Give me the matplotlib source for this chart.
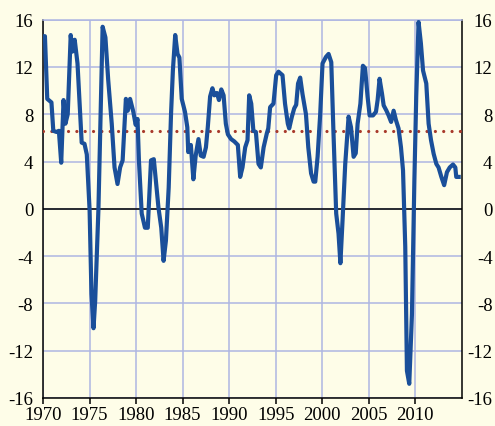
import matplotlib
matplotlib.use('Agg')
import matplotlib.pyplot as plt

# traced points of the series (year, percent)
years = [1970.0, 1970.2, 1970.45, 1970.9, 1971.1, 1971.45, 1971.7, 1971.95, 1972.2, 1972.4,
         1972.65, 1972.97, 1973.15, 1973.4, 1973.7, 1974.15, 1974.45, 1974.7, 1975.0, 1975.2,
         1975.42, 1975.6, 1975.95, 1976.4, 1976.7, 1977.0, 1977.38, 1977.68, 1978.0, 1978.28,
         1978.55, 1978.9, 1979.1, 1979.35, 1979.7, 1979.95, 1980.15, 1980.3, 1980.6, 1980.95,
         1981.25, 1981.6, 1981.9, 1982.4, 1982.7, 1982.95, 1983.2, 1983.5, 1983.75, 1983.95,
         1984.2, 1984.45, 1984.65, 1984.9, 1985.25, 1985.5, 1985.6, 1985.88, 1986.15, 1986.4,
         1986.7, 1986.95, 1987.25, 1987.5, 1987.7, 1987.95, 1988.2, 1988.4, 1988.68, 1988.9,
         1989.15, 1989.4, 1989.64, 1989.86, 1990.2, 1990.55, 1990.93, 1991.18, 1991.43, 1991.72,
         1991.97, 1992.15, 1992.37, 1992.6, 1992.87, 1993.15, 1993.4, 1993.7, 1994.05, 1994.2,
         1994.4, 1994.76, 1995.05, 1995.3, 1995.73, 1996.0, 1996.3, 1996.45, 1996.74, 1996.99,
         1997.2, 1997.4, 1997.63, 1997.88, 1998.25, 1998.5, 1998.8, 1999.07, 1999.25, 1999.5,
         1999.78, 2000.03, 2000.4, 2000.68, 2000.97, 2001.2, 2001.5, 2001.75, 2001.95, 2002.18,
         2002.47, 2002.83, 2003.09, 2003.37, 2003.6, 2003.8, 2004.1, 2004.37, 2004.6, 2004.87,
         2005.09, 2005.45, 2005.77, 2005.95, 2006.16, 2006.42, 2006.6, 2006.9, 2007.13, 2007.4,
         2007.67, 2007.92, 2008.2, 2008.46, 2008.68, 2008.92, 2009.1, 2009.35, 2009.64, 2009.9,
         2010.1, 2010.35, 2010.6, 2010.83, 2011.18, 2011.43, 2011.69, 2011.97, 2012.26, 2012.5,
         2012.8, 2013.1, 2013.4, 2013.7, 2014.05, 2014.3, 2014.4, 2014.66]
values = [14.6, 14.6, 9.3, 9.0, 6.6, 6.5, 6.6, 3.9, 9.2, 7.2,
          8.0, 14.7, 13.3, 14.3, 12.3, 5.6, 5.5, 4.6, -0.1, -7.2,
          -10.1, -7.8, 0.0, 15.4, 14.5, 10.9, 7.2, 3.5, 2.1, 3.5,
          4.1, 9.3, 8.3, 9.3, 8.2, 7.1, 7.6, 4.1, -0.4, -1.6,
          -1.6, 4.1, 4.2, 0.1, -1.6, -4.4, -2.7, 1.8, 8.0, 11.7,
          14.7, 13.1, 12.8, 9.3, 8.2, 6.9, 4.8, 5.4, 2.5, 4.5,
          5.9, 4.5, 4.4, 5.2, 6.9, 9.5, 10.2, 9.6, 9.8, 9.2,
          10.1, 9.6, 7.2, 6.3, 5.9, 5.7, 5.4, 2.7, 3.5, 5.2,
          5.8, 9.6, 8.9, 6.6, 6.5, 3.8, 3.5, 5.2, 6.4, 6.8,
          8.6, 8.9, 11.3, 11.6, 11.3, 8.9, 7.2, 6.8, 7.8, 8.5,
          8.8, 10.6, 11.1, 9.7, 8.0, 5.2, 3.0, 2.3, 2.3, 4.4,
          8.0, 12.3, 12.85, 13.1, 12.4, 6.6, -0.4, -2.1, -4.6, -1.0,
          3.8, 7.8, 6.9, 4.4, 4.7, 7.2, 8.9, 12.1, 11.9, 9.5,
          7.9, 7.9, 8.2, 9.2, 11.0, 9.75, 8.75, 8.3, 7.9, 7.35,
          8.3, 7.5, 6.8, 5.2, 3.25, -3.2, -13.7, -14.8, -8.9, 2.4,
          9.5, 15.8, 14.0, 11.7, 10.6, 7.2, 5.8, 4.66, 3.8, 3.5,
          2.7, 2.0, 3.1, 3.5, 3.75, 3.5, 2.7, 2.7]

avg_value = 6.6
xticks = [1970, 1975, 1980, 1985, 1990, 1995, 2000, 2005, 2010]
yticks = [-16, -12, -8, -4, 0, 4, 8, 12, 16]

bg = '#FEFDE8'
grid_col = '#AEB6E2'

plt.rcParams['font.family'] = ['Liberation Serif', 'DejaVu Serif']

fig = plt.figure(figsize=(4.95, 4.27), dpi=100, facecolor=bg)
ax = fig.add_axes([0.087, 0.0656, 0.846, 0.886], facecolor=bg)

ax.set_xlim(1970, 2015)
ax.set_ylim(-16, 16)
ax.set_xticks(xticks)
ax.set_yticks(yticks)
ax.set_yticklabels([str(t) for t in yticks])
ax.grid(True, color=grid_col, linewidth=1.1, zorder=0)
ax.set_axisbelow(True)

ax.axhline(0, color='black', linewidth=1.1, zorder=2)
ax.axhline(avg_value, color='#A8392B', linewidth=2.3, linestyle=(0, (0.01, 2.6)),
           dash_capstyle='round', zorder=3)
ax.plot(years, values, color='#1A4F9A', linewidth=3.0, solid_joinstyle='round', zorder=4)

for s in ['left', 'bottom', 'right']:
    ax.spines[s].set_color('black')
    ax.spines[s].set_linewidth(1.1)
ax.spines['top'].set_color(grid_col)
ax.spines['top'].set_linewidth(1.1)

ax.tick_params(axis='x', direction='out', length=4, width=1.1, pad=2, labelsize=13.5)
ax.tick_params(axis='y', length=0, pad=7, labelsize=13.5)

# right-hand labels, right-aligned at the figure edge
ax2 = ax.twinx()
ax2.set_ylim(-16, 16)
ax2.set_yticks(yticks)
ax2.set_yticklabels([str(t) for t in yticks])
ax2.tick_params(axis='y', length=0, pad=22, labelsize=13.5)
for lab in ax2.get_yticklabels():
    lab.set_horizontalalignment('right')
for s in ['left', 'bottom', 'right', 'top']:
    ax2.spines[s].set_visible(False)

fig.savefig('out.png', dpi=100, facecolor=bg)
